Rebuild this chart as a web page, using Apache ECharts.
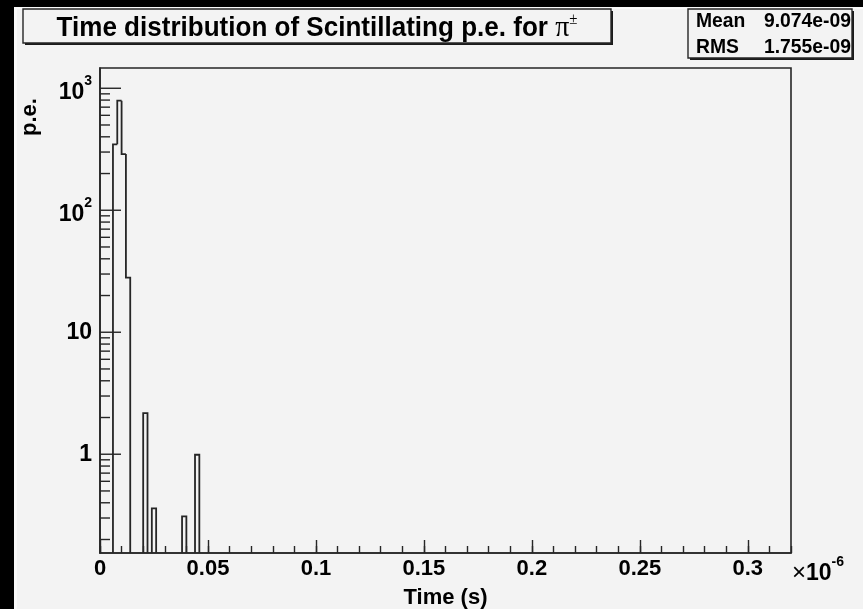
<!DOCTYPE html>
<html>
<head>
<meta charset="utf-8">
<script src="https://cdn.jsdelivr.net/npm/echarts@6/dist/echarts.min.js"></script>
<style>
  html, body { margin: 0; padding: 0; background: #000; }
  #chart { width: 863px; height: 609px; }
</style>
</head>
<body>
<div id="chart"></div>
<script>
// Scintillation photo-electron arrival times, x in units of 1e-6 s, 2 ns bins.
const binWidth = 0.002;
const binStarts = [0.006, 0.008, 0.010, 0.012, 0.020, 0.024, 0.038, 0.044];
const binContents = [347, 791, 289, 28, 2.17, 0.36, 0.31, 0.99];

// Axis ranges and tick labels
const xRange = [0, 0.32];
const xMajorStep = 0.05;
const xMinorStep = 0.01;
const yRange = [0.155, 1466];
const yDecades = [1, 10, 100, 1000];
const yDecadeLabels = ['1', '10', '{b|10}{s|2}', '{b|10}{s|3}'];

// Statistics box
const statNames = ['Mean', 'RMS'];
const statValues = ['9.074e-09', '1.755e-09'];

const SANS = "'Liberation Sans', Arial, Helvetica, sans-serif";
const SERIF = "'Liberation Serif', 'DejaVu Serif', serif";
const INK = '#000';
const LINE = '#262626';
const PAPER = '#f3f3f3';

// Look up a bin's content by its start (0 when empty)
function contentAt(start) {
  for (let i = 0; i < binStarts.length; i++) {
    if (Math.abs(binStarts[i] - start) < binWidth * 0.01) return binContents[i];
  }
  return 0;
}

const histData = binStarts.map((s, i) => [
  s, s + binWidth, binContents[i], contentAt(s - binWidth), contentAt(s + binWidth)
]);

// Log-axis tick marks: decades long, 2..9 subdivisions short
const yTickData = [];
[0.1, 1, 10, 100].forEach(d => {
  for (let k = 2; k <= 9; k++) {
    const v = +(d * k).toPrecision(6);
    if (v > yRange[0] && v < yRange[1]) yTickData.push([0, v, 10]);
  }
});
yDecades.forEach(v => yTickData.push([0, v, 21]));

// Outline of the histogram drawn as a ROOT-style step line
function renderHist(params, api) {
  const cs = params.coordSys;
  const yBottom = cs.y + cs.height;
  const x0 = api.value(0), x1 = api.value(1), v = api.value(2);
  const prev = api.value(3), next = api.value(4);
  const pL = api.coord([x0, v]);
  const pR = api.coord([x1, v]);
  const yPrev = prev > 0 ? api.coord([x0, prev])[1] : yBottom;
  const pts = [[pL[0], yPrev], [pL[0], pL[1]], [pR[0], pR[1]]];
  if (!(next > 0)) pts.push([pR[0], yBottom]);
  return {
    type: 'polyline',
    shape: { points: pts },
    style: { stroke: LINE, lineWidth: 1.8, fill: null }
  };
}

function renderYTick(params, api) {
  const cs = params.coordSys;
  const p = api.coord([xRange[0], api.value(1)]);
  const len = api.value(2);
  return {
    type: 'line',
    shape: { x1: cs.x, y1: p[1], x2: cs.x + len, y2: p[1] },
    style: { stroke: LINE, lineWidth: 1.4 }
  };
}

function yLabel(v) {
  for (let i = 0; i < yDecades.length; i++) {
    if (Math.abs(v - yDecades[i]) / yDecades[i] < 1e-6) return yDecadeLabels[i];
  }
  return '';
}

const chart = echarts.init(document.getElementById('chart'), null, { renderer: 'canvas' });

const option = {
  backgroundColor: '#000',
  animation: false,
  textStyle: { fontFamily: SANS },
  grid: {
    left: 100, right: 72, top: 68, bottom: 56,
    show: true, borderColor: LINE, borderWidth: 1.6, backgroundColor: PAPER,
    containLabel: false, outerBoundsMode: 'none'
  },
  xAxis: [
    {
      type: 'value', position: 'bottom',
      min: xRange[0], max: xRange[1], interval: xMajorStep,
      axisLine: { show: true, lineStyle: { color: LINE, width: 1.6 } },
      axisTick: { show: true, inside: true, length: 13, lineStyle: { color: LINE, width: 1.4 } },
      axisLabel: {
        show: true, margin: 5, color: INK, fontFamily: SANS, fontWeight: 'bold', fontSize: 22,
        showMaxLabel: false, hideOverlap: false
      },
      splitLine: { show: false },
      name: 'Time (s)', nameLocation: 'middle', nameGap: 34,
      nameTextStyle: { color: INK, fontFamily: SANS, fontWeight: 'bold', fontSize: 22 }
    },
    {
      type: 'value', position: 'bottom',
      min: xRange[0], max: xRange[1], interval: xMinorStep,
      axisLine: { show: false },
      axisTick: { show: true, inside: true, length: 7, lineStyle: { color: LINE, width: 1.4 } },
      axisLabel: { show: false },
      splitLine: { show: false }
    }
  ],
  yAxis: {
    type: 'log', logBase: 10,
    min: yRange[0], max: yRange[1],
    axisLine: { show: true, lineStyle: { color: LINE, width: 1.6 } },
    axisTick: { show: false },
    splitLine: { show: false },
    axisLabel: {
      show: true, margin: 8, color: INK, fontFamily: SANS, fontWeight: 'bold', fontSize: 23,
      showMinLabel: true, showMaxLabel: true, hideOverlap: false,
      formatter: yLabel,
      rich: {
        b: { fontFamily: SANS, fontWeight: 'bold', fontSize: 23, color: INK, lineHeight: 32, verticalAlign: 'bottom' },
        s: { fontFamily: SANS, fontWeight: 'bold', fontSize: 14, color: INK, lineHeight: 32, verticalAlign: 'top', padding: [2, 0, 0, 0] }
      }
    }
  },
  graphic: [
    // page background
    { type: 'rect', z: -10, shape: { x: 14, y: 7, width: 849, height: 602 }, style: { fill: '#fafafa' } },
    { type: 'rect', z: -9, shape: { x: 17, y: 9, width: 846, height: 600 }, style: { fill: PAPER } },
    // title box with shadow
    { type: 'rect', z: 5, shape: { x: 25, y: 11, width: 588, height: 34 }, style: { fill: '#1a1a1a' } },
    { type: 'rect', z: 6, shape: { x: 23, y: 9, width: 588, height: 34 }, style: { fill: PAPER, stroke: LINE, lineWidth: 1.4 } },
    {
      type: 'text', z: 7, x: 317, y: 28, scaleX: 0.93,
      style: {
        text: '{a|Time distribution of Scintillating p.e. for }{p|π}{s|±}',
        align: 'center', verticalAlign: 'middle',
        rich: {
          a: { fontFamily: SANS, fontWeight: 'bold', fontSize: 28, fill: INK, lineHeight: 32, verticalAlign: 'middle' },
          p: { fontFamily: SERIF, fontSize: 30, fill: INK, lineHeight: 32, verticalAlign: 'middle' },
          s: { fontFamily: SERIF, fontSize: 16, fill: INK, lineHeight: 16, verticalAlign: 'top' }
        }
      }
    },
    // statistics box with shadow
    { type: 'rect', z: 5, shape: { x: 690, y: 11, width: 164, height: 49 }, style: { fill: '#1a1a1a' } },
    { type: 'rect', z: 6, shape: { x: 688, y: 9, width: 164, height: 49 }, style: { fill: PAPER, stroke: LINE, lineWidth: 1.4 } },
    { type: 'text', z: 7, x: 696, y: 21, scaleX: 0.92, style: { text: statNames[0], align: 'left', verticalAlign: 'middle', font: "bold 21px " + SANS, fill: INK } },
    { type: 'text', z: 7, x: 851, y: 21, scaleX: 0.92, style: { text: statValues[0], align: 'right', verticalAlign: 'middle', font: "bold 21px " + SANS, fill: INK } },
    { type: 'text', z: 7, x: 696, y: 47, scaleX: 0.92, style: { text: statNames[1], align: 'left', verticalAlign: 'middle', font: "bold 21px " + SANS, fill: INK } },
    { type: 'text', z: 7, x: 851, y: 47, scaleX: 0.92, style: { text: statValues[1], align: 'right', verticalAlign: 'middle', font: "bold 21px " + SANS, fill: INK } },
    // y-axis title
    {
      type: 'text', z: 7, x: 30, y: 117, rotation: Math.PI / 2,
      style: { text: 'p.e.', align: 'center', verticalAlign: 'middle', font: "bold 22px " + SANS, fill: INK }
    },
    // x-axis exponent
    {
      type: 'text', z: 7, x: 792, y: 570,
      style: {
        text: '{m|×}{b|10}{s|-6}', align: 'left', verticalAlign: 'middle',
        rich: {
          m: { fontFamily: SANS, fontSize: 24, fill: INK, lineHeight: 30, verticalAlign: 'bottom' },
          b: { fontFamily: SANS, fontWeight: 'bold', fontSize: 23, fill: INK, lineHeight: 30, verticalAlign: 'bottom' },
          s: { fontFamily: SANS, fontWeight: 'bold', fontSize: 14, fill: INK, lineHeight: 15, verticalAlign: 'top' }
        }
      }
    }
  ],
  series: [
    {
      name: 'p.e.', type: 'custom', xAxisIndex: 0, yAxisIndex: 0,
      renderItem: renderHist, data: histData, clip: true,
      encode: { x: [0, 1], y: 2 }, z: 3, silent: true
    },
    {
      name: 'yticks', type: 'custom', xAxisIndex: 0, yAxisIndex: 0,
      renderItem: renderYTick, data: yTickData, clip: false,
      encode: { x: 0, y: 1 }, z: 4, silent: true
    }
  ]
};

chart.setOption(option);
</script>
</body>
</html>
